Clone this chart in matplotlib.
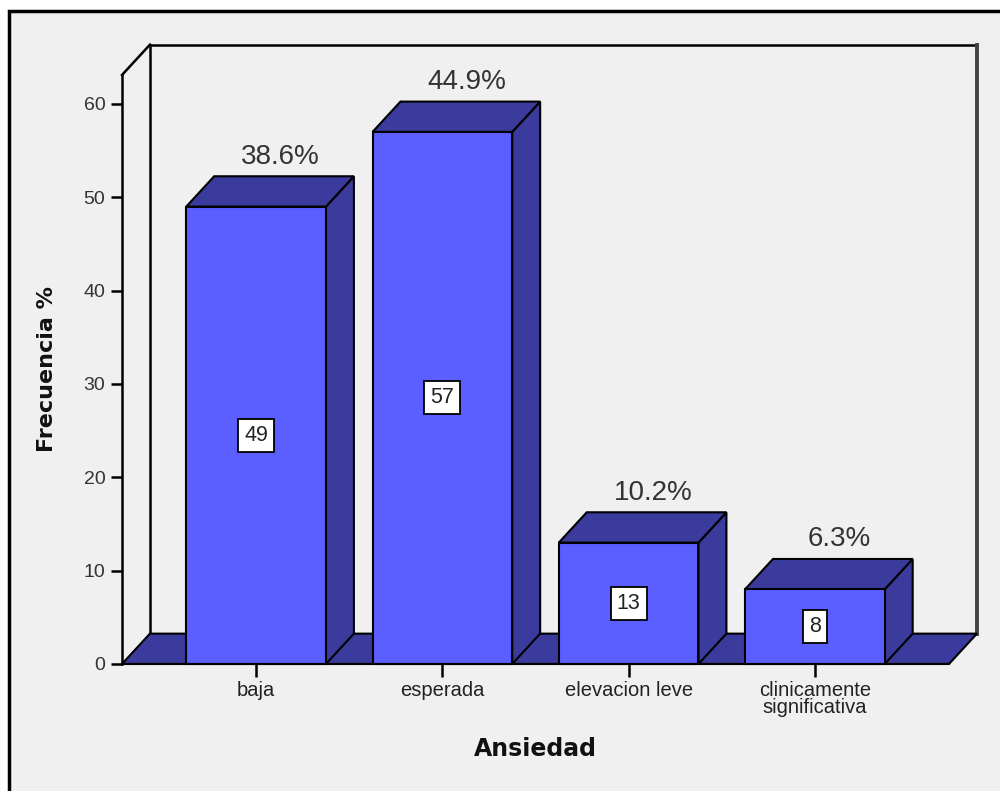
import matplotlib
matplotlib.use("Agg")
import matplotlib.pyplot as plt
from matplotlib.patches import Polygon, Rectangle

categories = ["baja", "esperada", "elevacion leve", "clinicamente\nsignificativa"]
counts = [49, 57, 13, 8]
percents = [38.6, 44.9, 10.2, 6.3]
y_ticks = [0, 10, 20, 30, 40, 50, 60]

front_color = "#5b5fff"
dark_color = "#3a3b9c"
bg_color = "#f0f0f0"
text_color = "#222222"

# depth of the pseudo-3d boxes, in data units
DX = 0.15
DY = 3.25
bar_w = 0.75
x_lo, x_hi = -0.72, 3.72
y_top = 63.1

plt.rcParams["font.family"] = ["Liberation Sans", "DejaVu Sans"]

fig = plt.figure(figsize=(10, 7.91), dpi=100)
fig.patch.set_facecolor("white")
fig.add_artist(Rectangle((0.009, -0.2), 1.5, 1.186, transform=fig.transFigure,
                         facecolor=bg_color, edgecolor="black", lw=2.5, zorder=-10))

ax = fig.add_axes([0.122, 0.1606, 0.827, 0.7446])
ax.set_facecolor("none")
ax.set_xlim(x_lo, x_hi)
ax.set_ylim(0, y_top)

# back wall and left edge
wall_kw = dict(color="black", lw=1.8, clip_on=False, zorder=1)
ax.plot([x_lo + DX, x_lo + DX], [DY, y_top + DY], **wall_kw)
ax.plot([x_lo + DX, x_hi + DX], [y_top + DY, y_top + DY], **wall_kw)
ax.plot([x_lo, x_lo + DX], [y_top, y_top + DY], **wall_kw)
ax.plot([x_hi + DX, x_hi + DX], [DY, y_top + DY], color="#444444", lw=2.8,
        clip_on=False, zorder=1)

# floor
floor = Polygon([(x_lo, 0), (x_lo + DX, DY), (x_hi + DX, DY), (x_hi, 0)],
                closed=True, facecolor=dark_color, edgecolor="black", lw=1.5,
                clip_on=False, zorder=2)
ax.add_patch(floor)

xs = list(range(len(categories)))
for x, h in zip(xs, counts):
    l, r = x - bar_w / 2, x + bar_w / 2
    side = Polygon([(r, 0), (r + DX, DY), (r + DX, h + DY), (r, h)], closed=True,
                   facecolor=dark_color, edgecolor="black", lw=1.5, clip_on=False, zorder=3)
    top = Polygon([(l, h), (l + DX, h + DY), (r + DX, h + DY), (r, h)], closed=True,
                  facecolor=dark_color, edgecolor="black", lw=1.5, clip_on=False, zorder=3)
    ax.add_patch(side)
    ax.add_patch(top)

ax.bar(xs, counts, width=bar_w, color=front_color, edgecolor="black", lw=1.5,
       zorder=4, clip_on=False)

for x, h, p in zip(xs, counts, percents):
    ax.text(x, h / 2, str(h), ha="center", va="center", fontsize=15.5, color=text_color,
            zorder=6, bbox=dict(boxstyle="square,pad=0.28", facecolor="white",
                                edgecolor="black", lw=1.3))
    ax.text(x + 0.13, h + DY + 0.7, f"{p}%", ha="center", va="bottom", fontsize=20,
            color="#333333", zorder=6)

for s in ["top", "right"]:
    ax.spines[s].set_visible(False)
ax.spines["left"].set_linewidth(1.8)
ax.spines["bottom"].set_linewidth(1.5)
ax.spines["bottom"].set_zorder(5)

ax.set_yticks(y_ticks)
ax.tick_params(axis="y", length=8, width=1.8, pad=4, labelsize=14, labelcolor="#333333")
ax.set_xticks(xs)
ax.set_xticklabels(categories)
ax.tick_params(axis="x", length=9.5, width=1.8, pad=3, labelsize=14.5, labelcolor=text_color)
for lbl in ax.get_xticklabels():
    lbl.set_linespacing(0.85)

ax.set_ylabel("Frecuencia %", fontsize=16, fontweight="bold", family="DejaVu Sans",
              color="#111111", va="center")
ax.yaxis.set_label_coords(-0.0907, 0.5)
ax.set_xlabel("Ansiedad", fontsize=17, fontweight="bold", family="DejaVu Sans",
              color="#111111", va="center")
ax.xaxis.set_label_coords(0.5, -0.1443)

fig.savefig("out.png", dpi=100)
